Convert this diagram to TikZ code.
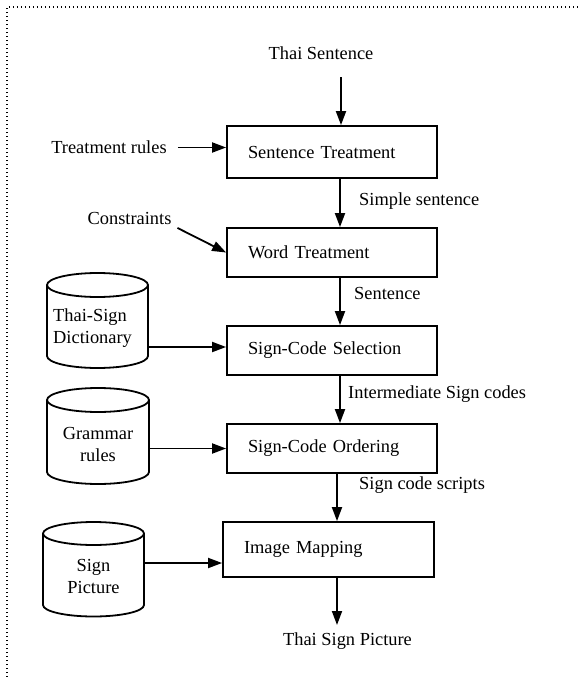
\documentclass[tikz,border=0pt]{standalone}
\usepackage{fontspec}
\setmainfont{Liberation Serif}
\usetikzlibrary{arrows.meta,calc}
\newcommand\drawcyl[5]{% cx, ytop, ybottom, rx, ry
  \draw[cylline] ({#1-#4},#2) -- ({#1-#4},#3) arc[start angle=180,end angle=0,x radius=#4,y radius=#5] -- ({#1+#4},#2);
  \draw[cylline] (#1,#2) ellipse[x radius=#4, y radius=#5];}
\begin{document}
\begin{tikzpicture}[x=1pt,y=-1pt,
  every node/.style={font=\fontsize{18.4pt}{22pt}\selectfont, inner sep=0pt},
  procbox/.style={draw, line width=1.8pt, minimum width=210pt, text width=168pt, align=left, inner xsep=21pt, inner ysep=0pt},
  arr/.style={line width=1.8pt, -{Triangle[length=14pt,width=10pt]}},
  cylline/.style={line width=1.8pt},
  framedots/.style={line width=1.3pt, dash pattern=on 1.3pt off 2.7pt}]
\useasboundingbox (0,0) rectangle (579,677);
\draw[framedots] (7,677) -- (7,7) -- (579,7);

% process boxes
\node[procbox, minimum height=52pt] (st) at (332,152) {Sentence Treatment};
\node[procbox, minimum height=49pt] (wt) at (332,252.5) {Word Treatment};
\node[procbox, minimum height=49pt] (scs) at (332,350.5) {Sign-Code Selection};
\node[procbox, minimum height=49pt] (sco) at (332,448.5) {Sign-Code Ordering};
\node[procbox, minimum height=55pt, minimum width=211pt, text width=169pt] (im) at (328.5,549.5) {Image Mapping};

% input / output texts
\node (thaisent) at (321,53) {Thai Sentence};
\node (thaisign) at (347.5,641) {Thai Sign Picture};
\node (trules) at (109,147.5) {Treatment rules};
\node (constr) at (129.5,218) {Constraints};

% edge labels
\node[anchor=west] (l1) at (359,201) {Simple sentence};
\node[anchor=west] (l2) at (354,293) {Sentence};
\node[anchor=west] (l3) at (348,394) {Intermediate Sign codes};
\node[anchor=west] (l4) at (359,485) {Sign code scripts};

% databases
\drawcyl{97.5}{285}{356}{50.5}{12}
\node[minimum width=101pt, minimum height=71pt] (dict) at (97.5,320.5) {};
\node[anchor=west, align=left] (dicttxt) at (53,328) {Thai-Sign\\Dictionary};

\drawcyl{98}{400}{472}{51}{12}
\node[minimum width=102pt, minimum height=72pt] (gram) at (98,436) {};
\node[align=center] (gramtxt) at (98,444.5) {Grammar\\rules};

\drawcyl{93.5}{533.5}{605}{50.5}{11.5}
\node[minimum width=101pt, minimum height=71.5pt] (pict) at (93.5,569.25) {};
\node[align=center] (picttxt) at (93.5,576.5) {Sign\\Picture};

% main flow
\draw[arr, shorten <=17.7pt] ([xshift=20pt]thaisent.south) -- ([xshift=9pt]st.north);
\draw[arr] ([xshift=8pt]st.south) -- ([xshift=8pt]wt.north);
\draw[arr] ([xshift=8pt]wt.south) -- ([xshift=8pt]scs.north);
\draw[arr] ([xshift=8pt]scs.south) -- ([xshift=8pt]sco.north);
\draw[arr] ([xshift=5pt]sco.south) -- ([xshift=8.5pt]im.north);
\coordinate (outend) at (337,625);
\draw[arr] (im.south -| outend) -- (outend);

% side inputs
\draw[arr, shorten <=11pt] (trules.east) -- (trules.east -| st.west);
\draw[arr, shorten <=6.5pt] ([yshift=-7pt]constr.east) -- (wt.west);
\coordinate (a1) at ([yshift=3.5pt]scs.west);
\draw[arr] (dict.east |- a1) -- (a1);
\draw[arr] (gram.east |- sco.west) -- (sco.west);
\coordinate (a3) at ([yshift=-13.5pt]im.west);
\draw[arr] (pict.east |- a3) -- (a3);
\end{tikzpicture}
\end{document}
